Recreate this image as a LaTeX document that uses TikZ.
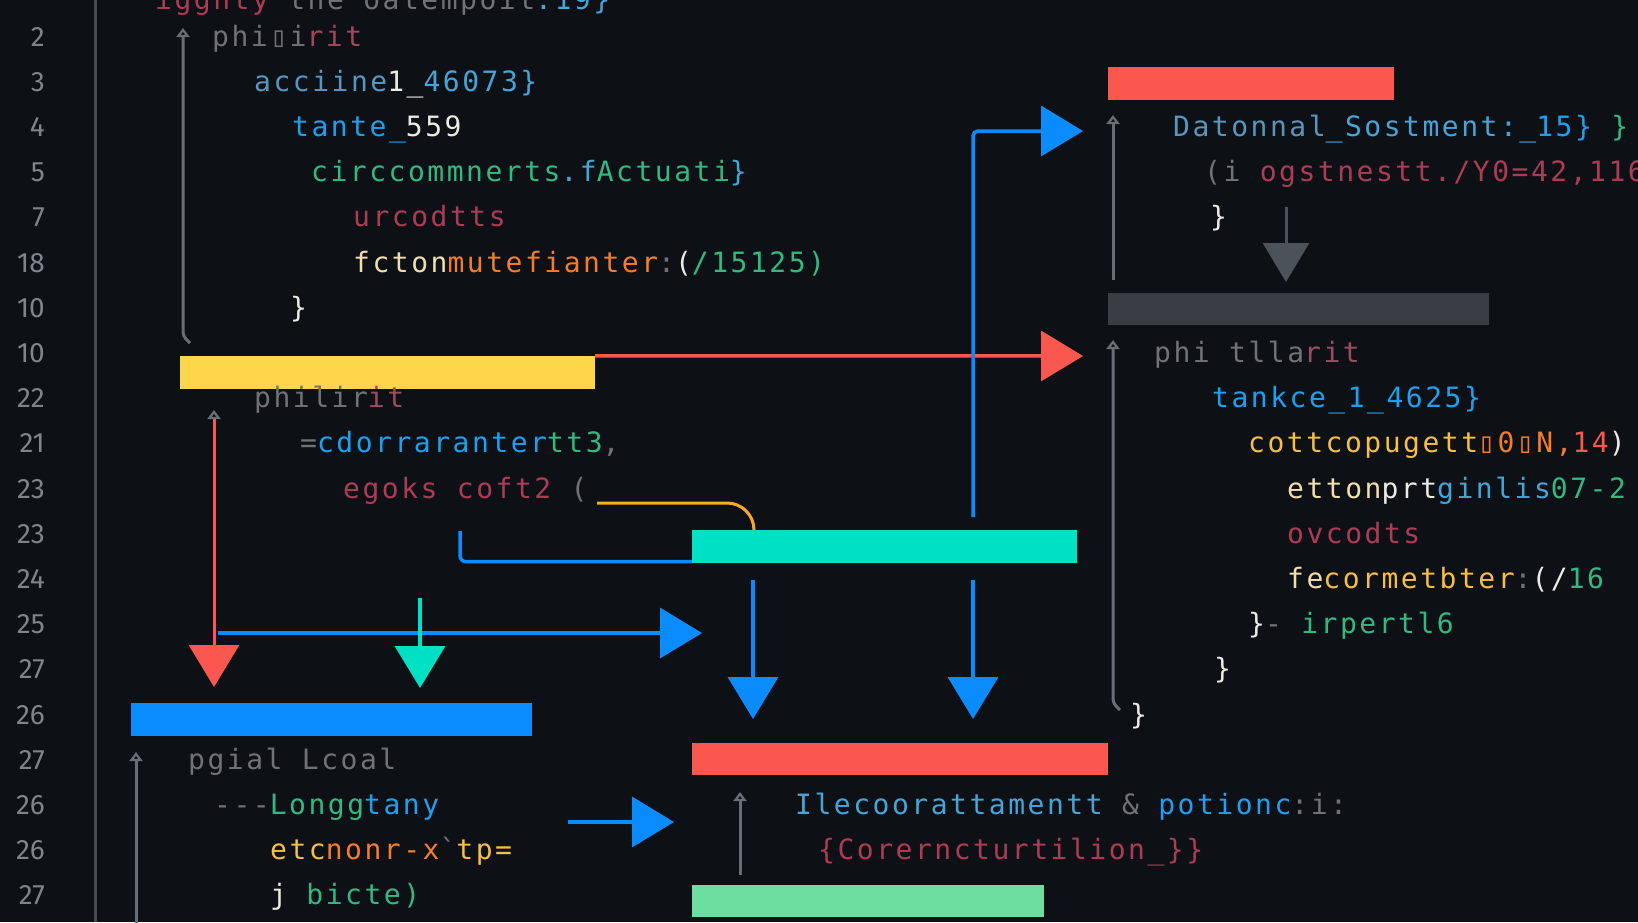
\documentclass[tikz,border=0pt]{standalone}
\usepackage{fontspec}
\usepackage{tikz}
\usetikzlibrary{arrows.meta}
\newfontfamily\codefont[LetterSpace=9]{DejaVu Sans Mono}
\newfontfamily\numfont{Fira Sans}
\definecolor{bgcol}{RGB}{13,16,21}
\definecolor{numcol}{RGB}{128,132,138}
\definecolor{rulecol}{RGB}{72,76,82}
\definecolor{tipcol}{RGB}{104,110,118}
\definecolor{yelcol}{RGB}{253,214,74}
\definecolor{redcol}{RGB}{250,88,78}
\definecolor{tealcol}{RGB}{0,224,196}
\definecolor{bluecol}{RGB}{10,140,255}
\definecolor{slatecol}{RGB}{58,62,68}
\definecolor{mintcol}{RGB}{110,222,160}
\definecolor{orcol}{RGB}{245,170,40}
\definecolor{downcol}{RGB}{76,82,90}
\definecolor{dimcol}{RGB}{112,114,120}
\definecolor{maroncol}{RGB}{172,60,86}
\definecolor{steelcol}{RGB}{88,150,190}
\definecolor{skycol}{RGB}{70,165,215}
\definecolor{azurecol}{RGB}{30,160,240}
\definecolor{jadecol}{RGB}{50,185,130}
\definecolor{inkcol}{RGB}{235,235,230}
\definecolor{tangcol}{RGB}{245,125,40}
\definecolor{goldcol}{RGB}{245,190,70}
\definecolor{creamcol}{RGB}{240,222,175}

\begin{document}
\begin{tikzpicture}[x=1pt, y=-1pt,
  bar/.style={rectangle, fill=#1, inner sep=0pt, minimum height=33pt},
  code/.style={anchor=base west, inner sep=0pt, font=\codefont\fontsize{28}{30}\selectfont},
  lnum/.style={anchor=base east, inner sep=0pt, text=numcol, font=\numfont\fontsize{28}{30}\selectfont},
  ar/.style={line width=3.5pt, #1, -{Triangle[length=42pt, width=50pt]}},
  gar/.style={line width=3pt, tipcol, -{Triangle[open, length=9pt, width=13pt]}},
  lnk/.style={line width=3.5pt, #1}
]
\useasboundingbox (0,0) rectangle (1638,922);
\clip (0,0) rectangle (1638,922);
\fill[bgcol] (0,0) rectangle (1638,922);

% gutter
\foreach \n [count=\i] in {1,2,3,4,5,7,18,10,10,22,21,23,23,24,25,27,26,27,26,26,27}
  \node[lnum] (n\i) at (45, {46+45.2*(\i-2)}) {\n};
\coordinate (ga) at (95,0);
\coordinate (gb) at (95,922);
\draw[rulecol, line width=3pt] (ga) -- (gb);

% bars
\node[bar=yelcol, minimum width=415pt] (yel) at (387.5,372.5) {};
\node[bar=redcol, minimum width=286pt] (rtop) at (1251,83.5) {};
\node[bar=slatecol, minimum width=381pt, minimum height=32pt] (gbar) at (1298.5,309) {};
\node[bar=tealcol, minimum width=385pt] (tbar) at (884.5,546.5) {};
\node[bar=bluecol, minimum width=401pt] (bbar) at (331.5,719.5) {};
\node[bar=redcol, minimum width=416pt, minimum height=32pt] (rbot) at (900,759) {};
\node[bar=mintcol, minimum width=352pt, minimum height=32pt] (gnbar) at (868,901) {};

% left code block
\node[code] (c0) at (155,9) {\textcolor{maroncol}{iggnty} \textcolor{dimcol}{the oatempoit}\textcolor{skycol}{:19\}}};
\node[code] (c1) at (212,46) {\textcolor{dimcol}{phi▯i}\textcolor{maroncol!80!dimcol}{rit}};
\node[code] (c2) at (254,91.2) {\textcolor{steelcol}{acciine}\textcolor{inkcol}{1\_}\textcolor{skycol}{46073\}}};
\node[code] (c3) at (292,136.4) {\textcolor{azurecol}{tante\_}\textcolor{inkcol}{559}};
\node[code] (c4) at (311,181.6) {\textcolor{jadecol}{circcommnerts}\textcolor{skycol}{.f}\textcolor{jadecol}{Actuati}\textcolor{skycol}{\}}};
\node[code] (c5) at (353,226.8) {\textcolor{maroncol}{urcodtts}};
\node[code] (c6) at (353,272) {\textcolor{creamcol}{fcton}\textcolor{tangcol}{mutefianter}\textcolor{dimcol}{:}\textcolor{inkcol}{(}\textcolor{jadecol}{/15125)}};
\node[code] (c7) at (290,317.2) {\textcolor{inkcol}{\}}};
\node[code] (c8) at (254,407.6) {\textcolor{dimcol}{philir}\textcolor{maroncol!70!dimcol}{it}};
\node[code] (c9) at (300,452.8) {\textcolor{dimcol}{=}\textcolor{azurecol}{cdorraranter}\textcolor{jadecol}{tt3}\textcolor{dimcol}{,}};
\node[code] (c10) at (343,498) {\textcolor{maroncol}{egoks coft2} \textcolor{dimcol}{(}};
\node[code] (c11) at (188,769.2) {\textcolor{dimcol}{pgial Lcoal}};
\node[code] (c12) at (214,814.4) {\textcolor{dimcol}{-{}-{}-}\textcolor{jadecol}{Longg}\textcolor{azurecol}{tany}};
\node[code] (c13) at (270,859.6) {\textcolor{goldcol}{etc}\textcolor{tangcol}{nonr-x}\textcolor{dimcol}{\char"60}\textcolor{goldcol}{tp=}};
\node[code] (c14) at (270,904.8) {\textcolor{inkcol}{j} \textcolor{jadecol}{bicte)}};

% right code block
\node[code] (r0) at (1173,136.4) {\textcolor{steelcol}{Datonnal}\textcolor{skycol}{\_Sostment:\_}\textcolor{azurecol}{15\}} \textcolor{jadecol}{\}}};
\node[code] (r1) at (1204,181.6) {\textcolor{dimcol}{(i} \textcolor{maroncol}{ogstnestt./Y0=42,116}};
\node[code] (r2) at (1210,226.8) {\textcolor{inkcol}{\}}};
\node[code] (r3) at (1154,362.4) {\textcolor{dimcol}{phi tlla}\textcolor{maroncol!70!dimcol}{rit}};
\node[code] (r4) at (1212,407.6) {\textcolor{azurecol}{tankce\_1\_4625\}}};
\node[code] (r5) at (1248,452.8) {\textcolor{goldcol}{cottcopugett}\textcolor{tangcol}{▯0▯N,}\textcolor{redcol}{14}\textcolor{inkcol}{)}};
\node[code] (r6) at (1287,498) {\textcolor{creamcol}{etton}\textcolor{inkcol}{prt}\textcolor{skycol}{ginlis}\textcolor{jadecol}{07-2}};
\node[code] (r7) at (1287,543.2) {\textcolor{maroncol}{ovcodts}};
\node[code] (r8) at (1287,588.4) {\textcolor{creamcol}{fe}\textcolor{goldcol}{cormetbter}\textcolor{dimcol}{:}\textcolor{inkcol}{(/}\textcolor{jadecol}{16}};
\node[code] (r9) at (1248,633.6) {\textcolor{inkcol}{\}}\textcolor{dimcol}{- }\textcolor{jadecol}{irpertl6}};
\node[code] (r10) at (1214,678.8) {\textcolor{inkcol}{\}}};
\node[code] (r11) at (1130,724) {\textcolor{inkcol}{\}}};

% bottom code block
\node[code] (b0) at (795,814.4) {\textcolor{skycol}{Ilecoorattamentt} \textcolor{dimcol}{\&} \textcolor{azurecol}{potionc}\textcolor{dimcol}{:i:}};
\node[code] (b1) at (818,859.6) {\textcolor{maroncol}{\{Corerncturtilion\_\}\}}};

% guide lines
\coordinate (g1a) at (190,343);  \coordinate (g1b) at (183,28);
\coordinate (g2a) at (1113,280); \coordinate (g2b) at (1113,115);
\coordinate (g3a) at (1120,710); \coordinate (g3b) at (1113,340);
\coordinate (g4a) at (136,930);  \coordinate (g4b) at (136,752);
\coordinate (g5a) at (740,875);  \coordinate (g5b) at (740,792);
\draw[gar, rounded corners=4pt] (g1a) -- ++(-7,-7) -- (g1b);
\draw[gar] (g2a) -- (g2b);
\draw[gar, rounded corners=4pt] (g3a) -- ++(-7,-7) -- (g3b);
\draw[gar] (g4a) -- (g4b);
\draw[gar] (g5a) -- (g5b);
\coordinate (gd1) at (1286,207); \coordinate (gd2) at (1286,282);
\draw[line width=3pt, downcol, -{Triangle[length=39pt, width=46pt]}] (gd1) -- (gd2);

% connectors
\coordinate (rtip) at (1083,356);
\draw[ar=redcol] (yel.north east) -- (rtip);

\coordinate (bup) at (973,517);
\coordinate (btip) at (1083,131);
\draw[ar=bluecol, rounded corners=5pt] (bup) |- (btip);

\coordinate (osrc) at (597,503);
\coordinate (oend) at (754,530);
\draw[orcol, line width=3pt, rounded corners=27pt] (osrc) -| (oend);

\coordinate (hk) at (460,531);
\draw[lnk=bluecol, rounded corners=6pt] (hk) |- ([yshift=1.5pt]tbar.south west);

\coordinate (d1a) at (753,580); \coordinate (d1b) at (753,719);
\coordinate (d2a) at (973,580); \coordinate (d2b) at (973,719);
\draw[ar=bluecol] (d1a) -- (d1b);
\draw[ar=bluecol] (d2a) -- (d2b);

\coordinate (l1a) at (214,410); \coordinate (l1b) at (214,687);
\draw[line width=3pt, redcol, {Triangle[open, length=9pt, width=13pt, color=tipcol]}-{Triangle[length=42pt, width=50pt]}] (l1a) -- (l1b);

\coordinate (h1a) at (218,633); \coordinate (h1b) at (702,633);
\draw[ar=bluecol] (h1a) -- (h1b);

\coordinate (t1a) at (420,598); \coordinate (t1b) at (420,688);
\draw[ar=tealcol] (t1a) -- (t1b);

\coordinate (h2a) at (568,822); \coordinate (h2b) at (674,822);
\draw[ar=bluecol] (h2a) -- (h2b);

\end{tikzpicture}
\end{document}
